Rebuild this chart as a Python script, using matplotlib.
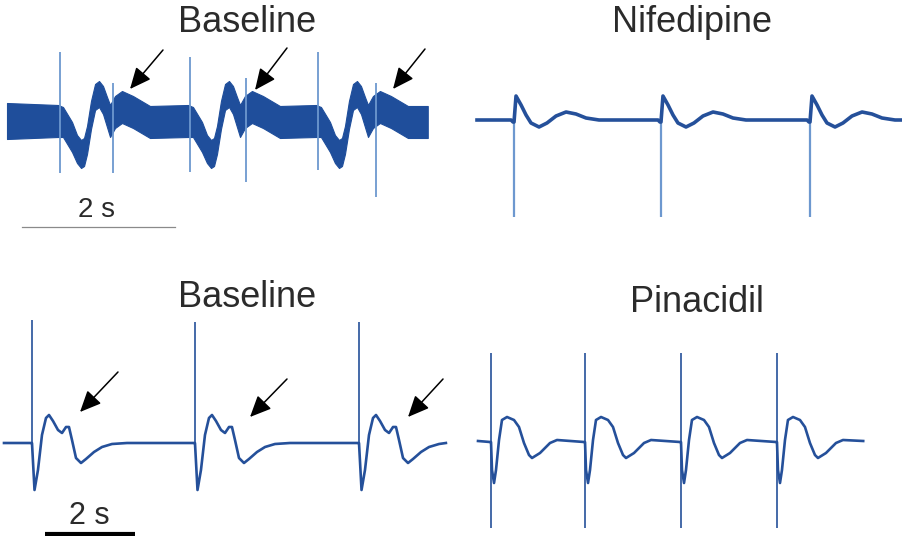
import numpy as np
import matplotlib
matplotlib.use("Agg")
from matplotlib import pyplot as plt

# ---------------- data (time in s, amplitude in arbitrary units) ----------------
# top left: baseline recording, very noisy -> band centre + half width
base1_start, base1_end = 0.0, 5.50
base1_start_v, base1_end_v, base1_start_hw, base1_end_hw = 0.0, -0.1, 1.8, 1.6
base1_spikes = [0.693, 2.392, 4.065]
base1_spike_top = [6.9, 6.4, 6.9]
base1_spike_bottom = [-5.2, -5.1, -4.9]
base1_notch = [1.386, 3.124, 4.824]
base1_notch_top = [3.8, 4.3, 3.8]
base1_notch_bottom = [-5.2, -6.1, -7.6]
base1_beat_t = [-0.026, 0.039, 0.157, 0.222, 0.275, 0.314, 0.353, 0.405, 0.458, 0.510,
                0.562, 0.614, 0.654, 0.719, 0.810, 0.954, 1.176]
base1_beat_v = [0.0, -0.1, -1.6, -2.8, -3.3, -3.1, -1.9, 0.6, 2.4, 2.7,
                2.1, 0.9, 0.0, 0.9, 1.4, 0.9, -0.1]
base1_beat_hw = [1.6, 1.5, 1.5, 1.4, 1.4, 1.4, 1.4, 1.4, 1.3, 1.3,
                 1.4, 1.5, 1.6, 1.6, 1.6, 1.6, 1.6]
base1_arrow_tail = [(2.039, 7.1), (3.660, 7.3), (5.464, 7.2)]
base1_arrow_head = [(1.608, 3.2), (3.242, 3.1), (5.046, 3.2)]

# top right: nifedipine
nif_start, nif_end = 0.0, 5.57
nif_spikes = [0.484, 2.405, 4.353]
nif_spike_bottom = [-9.7, -9.7, -9.7]
nif_beat_t = [-0.039, -0.013, 0.0, 0.026, 0.092, 0.157, 0.222, 0.327, 0.431, 0.549,
              0.680, 0.810, 0.941, 1.111]
nif_beat_v = [0.0, -0.2, -0.2, 2.4, 1.5, 0.5, -0.3, -0.7, -0.3, 0.4,
              0.8, 0.6, 0.2, 0.0]

# bottom left: baseline
base2_start, base2_end = 0.0, 9.82
base2_spikes = [0.622, 4.244, 7.889]
base2_spike_top = [12.3, 12.1, 12.1]
base2_beat_t = [-0.004, 0.0, 0.056, 0.133, 0.222, 0.311, 0.378, 0.467, 0.578, 0.667,
                0.756, 0.822, 0.889, 0.978, 1.089, 1.200, 1.378, 1.556, 1.778, 2.111]
base2_beat_v = [0.0, 0.0, -4.7, -2.7, 0.8, 2.5, 2.8, 2.2, 1.3, 1.0,
                1.6, 1.6, 0.3, -1.5, -2.0, -1.6, -0.9, -0.4, -0.1, 0.0]
base2_arrow_tail = [(2.533, 7.1), (6.289, 6.4), (9.756, 6.4)]
base2_arrow_head = [(1.689, 3.1), (5.467, 2.6), (8.978, 2.6)]

# bottom right: pinacidil
pin_start, pin_end = 0.0, 8.56
pin_spikes = [0.289, 2.378, 4.511, 6.644]
pin_spike_top = [8.8, 8.8, 8.8, 8.8]
pin_spike_bottom = [-8.7, -8.7, -8.7, -8.7]
pin_beat_t = [-0.022, 0.0, 0.022, 0.067, 0.111, 0.178, 0.244, 0.356, 0.511, 0.622,
              0.733, 0.844, 0.911, 1.089, 1.311, 1.467]
pin_beat_v = [-0.1, -0.1, -2.9, -4.2, -2.9, 0.1, 2.1, 2.4, 2.1, 1.4,
              -0.2, -1.4, -1.7, -1.2, -0.2, 0.1]

titles = ["Baseline", "Nifedipine", "Baseline", "Pinacidil"]

# ---------------- helpers ----------------
W, H = 903, 536
DARK = "#1f4e9b"
LINE = "#25509a"
LIGHT = "#6d98cf"
TEXT = "#2b2b2b"
FONT = "Liberation Sans"


def build(start, end, spikes, beat_t, *beat_vals):
    """repeat one digitised beat at every spike time, cut at the trace end"""
    t = []
    vals = [[] for _ in beat_vals]
    for s in spikes:
        for i, bt in enumerate(beat_t):
            if start < s + bt < end:
                t.append(s + bt)
                for k, bv in enumerate(beat_vals):
                    vals[k].append(bv[i])
    return [np.array(t)] + [np.array(v) for v in vals]


def panel_axes(x0, y0, px_per_s, px_per_unit):
    # full-figure axes; x0/y0 = pixel position of t=0, amplitude 0
    ax = fig.add_axes([0, 0, 1, 1])
    ax.set_xlim(-x0 / px_per_s, (W - x0) / px_per_s)
    ax.set_ylim((y0 - H) / px_per_unit, y0 / px_per_unit)
    ax.set_facecolor("none")
    ax.axis("off")
    return ax


def arrows(ax, tails, heads):
    for tail, head in zip(tails, heads):
        ax.annotate("", xy=head, xytext=tail,
                    arrowprops=dict(arrowstyle="-|>,head_length=1.0,head_width=0.45",
                                    mutation_scale=13, color="black", lw=1.1,
                                    shrinkA=0, shrinkB=0))


fig = plt.figure(figsize=(W / 100, H / 100), dpi=100)

# top left
ax1 = panel_axes(7, 121, 76.5, 10)
t, v, hw = build(base1_start, base1_end, base1_spikes, base1_beat_t, base1_beat_v, base1_beat_hw)
t = np.concatenate([[base1_start], t, [base1_end]])
v = np.concatenate([[base1_start_v], v, [base1_end_v]])
hw = np.concatenate([[base1_start_hw], hw, [base1_end_hw]])
ax1.fill_between(t, v - hw, v + hw, color=DARK, lw=0.8, edgecolor=DARK)
ax1.vlines(base1_spikes, base1_spike_bottom, base1_spike_top, color=LIGHT, lw=1.3)
ax1.vlines(base1_notch, base1_notch_bottom, base1_notch_top, color=LIGHT, lw=1.3)
arrows(ax1, base1_arrow_tail, base1_arrow_head)
ax1.plot([0.196, 2.196], [-10.6, -10.6], color="#8a8a8a", lw=0.9)
ax1.text(1.176, -9.6, "2 s", ha="center", va="baseline", fontsize=20, family=FONT, color=TEXT)

# top right
ax2 = panel_axes(477, 120, 76.5, 10)
t, v = build(nif_start, nif_end, nif_spikes, nif_beat_t, nif_beat_v)
t = np.concatenate([[nif_start], t, [nif_end]])
v = np.concatenate([[0.0], v, [0.0]])
ax2.vlines(nif_spikes, nif_spike_bottom, 0, color=LIGHT, lw=1.6)
ax2.plot(t, v, color=LINE, lw=2.6, solid_joinstyle="round")

# bottom left
ax3 = panel_axes(4, 443, 45, 10)
t, v = build(base2_start, base2_end, base2_spikes, base2_beat_t, base2_beat_v)
t = np.concatenate([[base2_start], t, [base2_end]])
v = np.concatenate([[0.0], v, [0.0]])
ax3.vlines(base2_spikes, 0, base2_spike_top, color=LINE, lw=1.2)
ax3.plot(t, v, color=LINE, lw=1.9, solid_joinstyle="round")
arrows(ax3, base2_arrow_tail, base2_arrow_head)
ax3.plot([0.911, 2.911], [-9.1, -9.1], color="black", lw=3, solid_capstyle="butt")
ax3.text(1.889, -8.1, "2 s", ha="center", va="baseline", fontsize=22, family=FONT, color=TEXT)

# bottom right
ax4 = panel_axes(478, 441, 45, 10)
t, v = build(pin_start, pin_end, pin_spikes, pin_beat_t, pin_beat_v)
t = np.concatenate([[pin_start], t, [pin_end]])
v = np.concatenate([[0.0], v, [0.0]])
ax4.vlines(pin_spikes, pin_spike_bottom, pin_spike_top, color=LINE, lw=1.2)
ax4.plot(t, v, color=LINE, lw=1.9, solid_joinstyle="round")

# panel titles (pixel centre x, baseline y)
for (x, y), title in zip([(247, 32), (692, 32), (247, 307), (697, 312)], titles):
    fig.text(x / W, 1 - y / H, title, ha="center", va="baseline",
             fontsize=26, family=FONT, color=TEXT)

fig.savefig("out.png", dpi=100)
